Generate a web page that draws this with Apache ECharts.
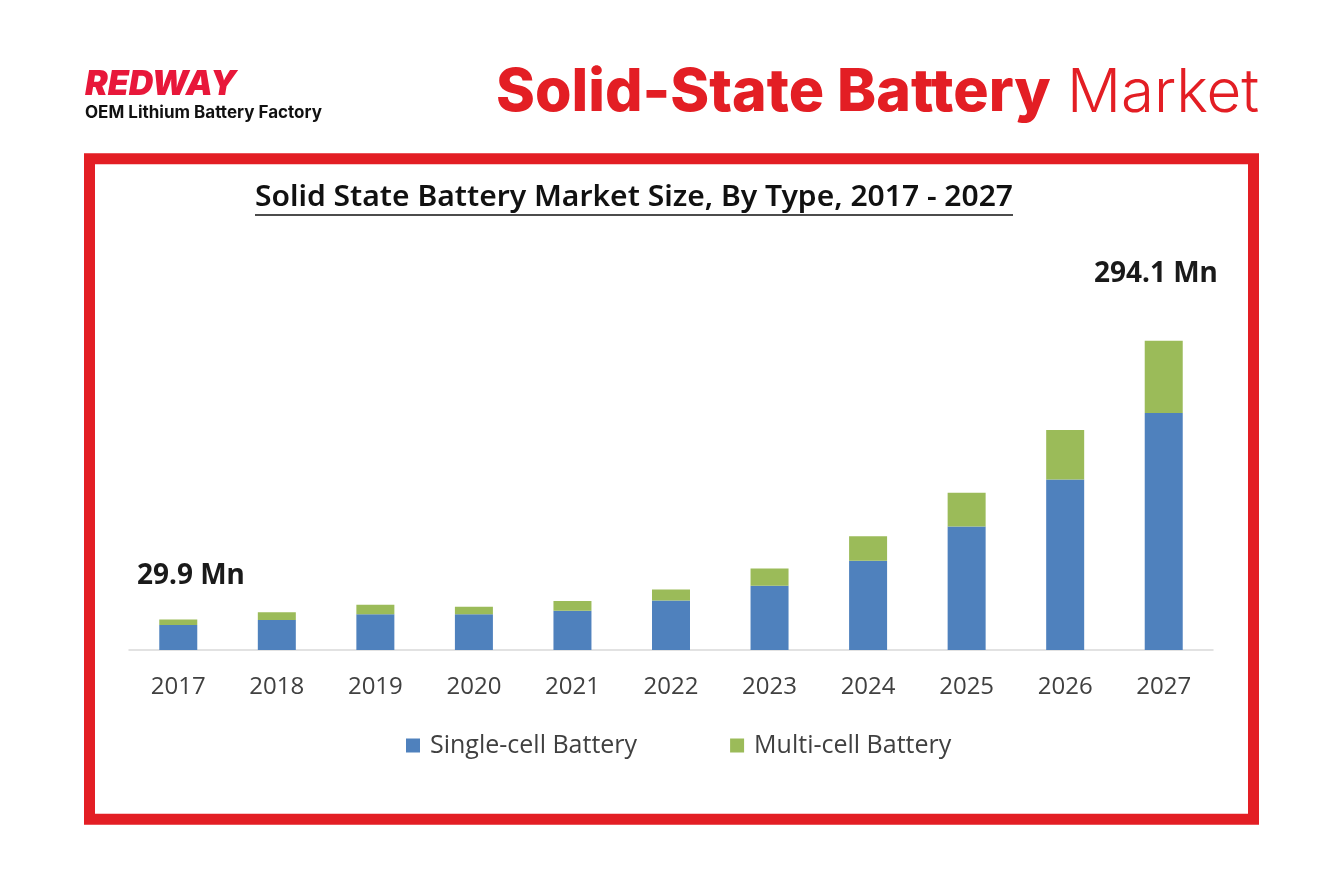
<!DOCTYPE html>
<html>
<head>
<meta charset="utf-8">
<script src="https://cdn.jsdelivr.net/npm/echarts@6/dist/echarts.min.js"></script>
<style>
html,body{margin:0;padding:0;background:#fff;}
#chart{width:1330px;height:885px;}
</style>
</head>
<body>
<div id="chart"></div>
<script>
const years = ['2017','2018','2019','2020','2021','2022','2023','2024','2025','2026','2027'];
const singleCell = [23.8, 28.6, 33.9, 33.9, 37.4, 47.0, 61.2, 84.8, 117.4, 162.2, 225.4];
const multiCell  = [5.3, 7.2, 9.2, 7.3, 9.2, 10.5, 16.2, 23.4, 32.1, 47.0, 68.7];
const seriesNames = ['Single-cell Battery', 'Multi-cell Battery'];
const startLabel = '29.9 Mn';
const endLabel = '294.1 Mn';
const chartTitle = 'Solid State Battery Market Size, By Type, 2017 - 2027';

const RED = '#e31e24';
const chart = echarts.init(document.getElementById('chart'), null, {renderer: 'canvas'});

const option = {
  backgroundColor: '#ffffff',
  animation: false,
  grid: {left: 129, right: 117, top: 334.5, height: 315.5, containLabel: false},
  legend: {
    data: seriesNames,
    left: 401, top: 728,
    icon: 'rect', itemWidth: 14, itemHeight: 14, itemGap: 93,
    textStyle: {fontFamily: 'Open Sans', fontSize: 25, color: '#404040', padding: [0,0,0,5]}
  },
  xAxis: {
    type: 'category', data: years,
    axisLine: {lineStyle: {color: '#d9d9d9', width: 1.5}},
    axisTick: {show: false},
    axisLabel: {fontFamily: 'Open Sans', fontSize: 24, color: '#404040', margin: 25}
  },
  yAxis: {type: 'value', min: 0, max: 300, show: false, splitLine: {show: false}},
  series: [
    {name: seriesNames[0], type: 'bar', stack: 'total', data: singleCell, barWidth: 38,
     itemStyle: {color: '#4f81bd'}},
    {name: seriesNames[1], type: 'bar', stack: 'total', data: multiCell, barWidth: 38,
     itemStyle: {color: '#9bbb59'}}
  ],
  graphic: [
    {type: 'rect', shape: {x: 89.5, y: 158.8, width: 1164, height: 660.5},
     style: {fill: 'none', stroke: RED, lineWidth: 11}, z: 10},
    {type: 'text', left: 85, top: 68,
     style: {text: 'REDWAY', font: 'italic 900 34px Inter', fill: '#e8173a'}},
    {type: 'text', left: 85, top: 104,
     style: {text: 'OEM Lithium Battery Factory', font: '700 17px Inter', fill: '#111111'}},
    {type: 'text', left: 496, top: 64,
     style: {text: 'Solid-State Battery', font: '800 59px Inter', fill: RED}},
    {type: 'text', left: 1067, top: 64,
     style: {text: 'Market', font: '300 60px Inter', fill: RED}},
    {type: 'text', x: 255, y: 184, scaleX: 1.072,
     style: {text: chartTitle, font: '600 28px "Noto Sans"', fill: '#111111', verticalAlign: 'top'}},
    {type: 'line', shape: {x1: 255, y1: 215, x2: 1013, y2: 215},
     style: {stroke: '#111111', lineWidth: 1.5}},
    {type: 'text', left: 137, top: 562,
     style: {text: startLabel, font: 'bold 28px "Noto Sans"', fill: '#1a1a1a'}},
    {type: 'text', left: 1094, top: 260,
     style: {text: endLabel, font: 'bold 28px "Noto Sans"', fill: '#1a1a1a'}}
  ]
};
chart.setOption(option);
</script>
</body>
</html>
